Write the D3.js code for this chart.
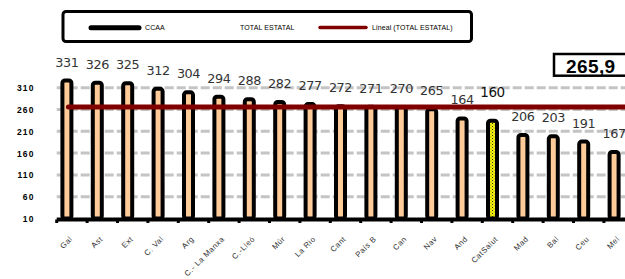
<!DOCTYPE html>
<html>
<head>
<meta charset="utf-8">
<script src="https://cdn.jsdelivr.net/npm/d3@7"></script>
<style>
  body { margin: 0; background: #fff; overflow: hidden; }
  svg { display: block; }
</style>
</head>
<body>
<div class="chart"></div>
<script>
// dades
var categories = ["Gal", "Ast", "Ext", "C. Val", "Arg", "C.- La Manxa", "C.-Lleó", "Múr", "La Rio", "Cant",
                  "País B", "Can", "Nav", "And", "CatSalut", "Mad", "Bal", "Ceu", "Mel"];
var ccaa = [331, 326, 325, 312, 304, 294, 288, 282, 277, 272, 271, 270, 265, 244, 239, 206, 203, 191, 167];
var valueLabels = ["331", "326", "325", "312", "304", "294", "288", "282", "277", "272",
                   "271", "270", "265", "164", "160", "206", "203", "191", "167"];
var series = ["CCAA", "TOTAL ESTATAL"];
var totalEstatal = 265.9;
var yTicks = [10, 60, 110, 160, 210, 260, 310];

var width = 625, height = 279;

var svg = d3.select(".chart").append("svg")
    .attr("width", width)
    .attr("height", height);

// pattern pel CatSalut
var defs = svg.append("defs");
var pat = defs.append("pattern")
    .attr("id", "dots")
    .attr("width", 3).attr("height", 3)
    .attr("patternUnits", "userSpaceOnUse");
pat.append("rect").attr("width", 3).attr("height", 3).attr("fill", "#ffff00");
pat.append("rect").attr("x", 0).attr("y", 0).attr("width", 1).attr("height", 1).attr("fill", "#222");
pat.append("rect").attr("x", 1.5).attr("y", 1.5).attr("width", 1).attr("height", 1).attr("fill", "#555");

//escales
var x = d3.scaleBand()
    .domain(categories)
    .range([56.7, 56.7 + categories.length * 30.4]);

var xInner = d3.scaleBand()
    .domain(series)
    .range([5.2, 25.2]);

var y = d3.scaleLinear()
    .domain([10, 360])
    .range([218.5, 218.5 - 350 * 0.436]);

// grid
svg.append("g").selectAll("line")
    .data(yTicks.slice(1))
    .enter().append("line")
    .attr("x1", 56.7)
    .attr("x2", width)
    .attr("y1", function(d) { return y(d); })
    .attr("y2", function(d) { return y(d); })
    .attr("stroke", "#c4c4c4")
    .attr("stroke-width", 3)
    .attr("stroke-dasharray", "9,3");

// eix Y
var yAxis = svg.append("g")
    .attr("transform", "translate(34.5,0)")
    .call(d3.axisLeft(y).tickValues(yTicks).tickSize(0).tickPadding(0));
yAxis.select(".domain").remove();
yAxis.selectAll("text")
    .attr("font-family", "Arial, 'Liberation Sans', sans-serif")
    .attr("font-size", "8.5px")
    .attr("font-weight", "bold")
    .attr("letter-spacing", "1.1px")
    .attr("fill", "#000")
    .attr("dy", "0.35em");

// barres
svg.append("g").selectAll("rect")
    .data(categories)
    .enter().append("rect")
    .attr("x", function(d) { return x(d) + xInner("CCAA") + xInner.bandwidth() / 2 - 4.5; })
    .attr("y", function(d, i) { return y(ccaa[i]) + 2; })
    .attr("width", 9)
    .attr("height", function(d, i) { return y(10) - y(ccaa[i]) - 2; })
    .attr("rx", 2.5)
    .attr("fill", function(d) { return d === "CatSalut" ? "url(#dots)" : "#ffcc99"; })
    .attr("stroke", "#000")
    .attr("stroke-width", 4);

// eix X
var xAxis = svg.append("g")
    .attr("transform", "translate(0," + (y(10) + 1) + ")");
xAxis.append("line")
    .attr("x1", 56.7).attr("x2", width)
    .attr("stroke", "#000").attr("stroke-width", 4);
xAxis.selectAll(".tk")
    .data(categories)
    .enter().append("line")
    .attr("class", "tk")
    .attr("x1", function(d) { return x(d); })
    .attr("x2", function(d) { return x(d); })
    .attr("y1", 0).attr("y2", 3.5)
    .attr("stroke", "#000").attr("stroke-width", 3);

xAxis.selectAll("text")
    .data(categories)
    .enter().append("text")
    .attr("transform", function(d) {
        return "translate(" + (x(d) + x.bandwidth() / 2 + 1) + ",20) rotate(-45)";
    })
    .attr("text-anchor", "end")
    .attr("font-family", "Arial, 'Liberation Sans', sans-serif")
    .attr("font-size", "7.8px")
    .attr("letter-spacing", "0.5px")
    .attr("fill", "#333")
    .text(function(d) { return d; });

// etiquetes de valor
svg.append("g").selectAll("text")
    .data(categories)
    .enter().append("text")
    .attr("x", function(d) { return x(d) + xInner("CCAA") + xInner.bandwidth() / 2; })
    .attr("y", function(d, i) { return y(ccaa[i]) - (d === "CatSalut" ? 22 : 12); })
    .attr("text-anchor", "middle")
    .attr("font-family", "'DejaVu Sans', Verdana, sans-serif")
    .attr("font-size", function(d) { return d === "CatSalut" ? "13.5px" : "12.8px"; })
    .attr("letter-spacing", "-0.4px")
    .attr("fill", function(d) { return d === "CatSalut" ? "#111" : "#333"; })
    .text(function(d, i) { return valueLabels[i]; });

// linia total estatal
svg.append("line")
    .attr("x1", x(categories[0]) + xInner("CCAA") + xInner.bandwidth() / 2 + 1.5)
    .attr("x2", width + 10)
    .attr("y1", y(totalEstatal))
    .attr("y2", y(totalEstatal))
    .attr("stroke", "#800000")
    .attr("stroke-width", 5)
    .attr("stroke-linecap", "round");

// caixa valor
var box = svg.append("g");
box.append("rect")
    .attr("x", 554).attr("y", 54)
    .attr("width", 90).attr("height", 21.7)
    .attr("fill", "#fff")
    .attr("stroke", "#000").attr("stroke-width", 2.5);
box.append("text")
    .attr("x", 566).attr("y", 73.2)
    .attr("font-family", "Arial, 'Liberation Sans', sans-serif")
    .attr("font-size", "19px")
    .attr("font-weight", "bold")
    .attr("letter-spacing", "0.4px")
    .text(d3.format(".1f")(totalEstatal).replace(".", ","));

// llegenda
var legend = svg.append("g");
legend.append("rect")
    .attr("x", 63).attr("y", 11.5)
    .attr("width", 408.5).attr("height", 30)
    .attr("rx", 3)
    .attr("fill", "#fff")
    .attr("stroke", "#000").attr("stroke-width", 3);

legend.append("line")
    .attr("x1", 91).attr("x2", 139)
    .attr("y1", 27.7).attr("y2", 27.7)
    .attr("stroke", "#000").attr("stroke-width", 5)
    .attr("stroke-linecap", "round");
legend.append("line")
    .attr("x1", 320).attr("x2", 366)
    .attr("y1", 27.5).attr("y2", 27.5)
    .attr("stroke", "#800000").attr("stroke-width", 3.5)
    .attr("stroke-linecap", "round");

var legendItems = [
    { text: series[0], x: 145 },
    { text: series[1], x: 240 },
    { text: "Lineal (" + series[1] + ")", x: 372 }
];
legend.selectAll("text")
    .data(legendItems)
    .enter().append("text")
    .attr("x", function(d) { return d.x; })
    .attr("y", 30.3)
    .attr("font-family", "Arial, 'Liberation Sans', sans-serif")
    .attr("font-size", "7px")
    .attr("letter-spacing", "0.1px")
    .attr("fill", "#000")
    .text(function(d) { return d.text; });
</script>
</body>
</html>
